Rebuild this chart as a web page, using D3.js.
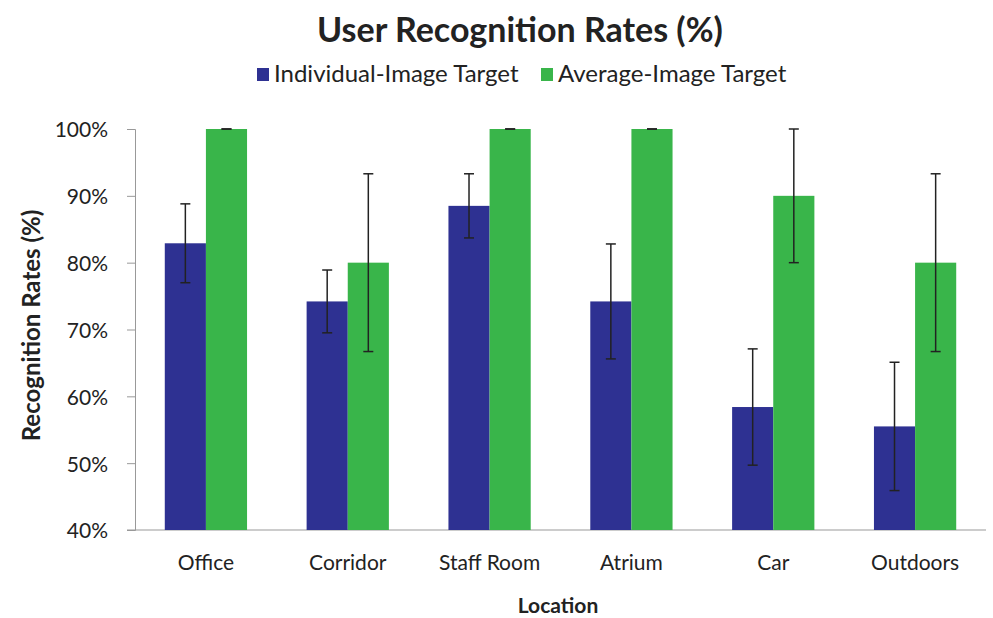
<!DOCTYPE html>
<html>
<head>
<meta charset="utf-8">
<script src="https://cdn.jsdelivr.net/npm/d3@7"></script>
<style>
  body { margin: 0; background: #fff; }
  svg text { font-family: Lato, "Open Sans", sans-serif; }
</style>
</head>
<body>
<script>
const w = 993;
const h = 618;
const margin = { top: 129, right: 7, bottom: 88, left: 135 };

const locations = ['Office', 'Corridor', 'Staff Room', 'Atrium', 'Car', 'Outdoors'];
const seriesNames = ['Individual-Image Target', 'Average-Image Target'];
const individual = [82.9, 74.2, 88.5, 74.2, 58.4, 55.5];
const individualErr = [5.9, 4.7, 4.8, 8.6, 8.7, 9.6];
const average = [100, 80, 100, 100, 90, 80];
const averageErr = [0, 13.3, 0, 0, 10, 13.3];
const yTicks = [40, 50, 60, 70, 80, 90, 100];
const colors = ['#2e3192', '#39b54a'];

const rows = locations.map((loc, i) => ({
  loc,
  vals: [
    { s: 0, v: individual[i], e: individualErr[i] },
    { s: 1, v: average[i], e: averageErr[i] }
  ]
}));

const svg = d3.select('body').append('svg')
  .attr('width', w)
  .attr('height', h);

const x0 = d3.scaleBand()
  .domain(locations)
  .range([margin.left, w - margin.right])
  .paddingInner(0.42)
  .paddingOuter(0.21);

const x1 = d3.scaleBand()
  .domain([0, 1])
  .range([0, x0.bandwidth()]);

const y = d3.scaleLinear()
  .domain([40, 100])
  .range([h - margin.bottom, margin.top]);

// title + legend
svg.append('text')
  .attr('x', 520)
  .attr('y', 42)
  .attr('text-anchor', 'middle')
  .style('font-size', '34px')
  .style('font-weight', 'bold')
  .attr('fill', '#222')
  .text('User Recognition Rates (%)');

const legend = svg.append('g').attr('transform', 'translate(257, 66)');
const legendX = [0, 284];
seriesNames.forEach((name, i) => {
  const g = legend.append('g').attr('transform', `translate(${legendX[i]}, 0)`);
  g.append('rect')
    .attr('width', 12).attr('height', 13)
    .attr('y', 2)
    .attr('fill', colors[i]);
  g.append('text')
    .attr('x', 17)
    .attr('y', 16)
    .style('font-size', '24px')
    .attr('fill', '#222')
    .text(name);
});

// y axis
const yAxis = svg.append('g')
  .attr('transform', `translate(${margin.left}, 0)`)
  .call(d3.axisLeft(y).tickValues(yTicks).tickFormat(d => d + '%').tickSize(8).tickPadding(19));
yAxis.attr('font-family', null);
yAxis.select('.domain').attr('stroke', '#999');
yAxis.selectAll('.tick line').attr('stroke', '#999');
yAxis.selectAll('.tick text').style('font-size', '21px').attr('fill', '#222').attr('dy', '0.38em');

// x axis
const xAxis = svg.append('g')
  .attr('transform', `translate(0, ${h - margin.bottom})`)
  .call(d3.axisBottom(x0).tickSize(0).tickPadding(25));
xAxis.attr('font-family', null);
xAxis.select('.domain').attr('stroke', '#999').attr('d', `M${margin.left - 8},0H${w - margin.right}`);
xAxis.selectAll('.tick text').style('font-size', '21px').attr('fill', '#222');

// bars
const groups = svg.append('g')
  .selectAll('g')
  .data(rows)
  .enter().append('g')
  .attr('transform', d => `translate(${x0(d.loc)}, 0)`);

groups.selectAll('rect')
  .data(d => d.vals)
  .enter().append('rect')
  .attr('x', d => x1(d.s))
  .attr('y', d => y(d.v))
  .attr('width', x1.bandwidth())
  .attr('height', d => y(40) - y(d.v))
  .attr('fill', d => colors[d.s]);

// error bars
const err = groups.selectAll('g.err')
  .data(d => d.vals)
  .enter().append('g')
  .attr('class', 'err')
  .attr('stroke', '#222')
  .attr('stroke-width', 1.5);

const cx = d => x1(d.s) + x1.bandwidth() / 2;
err.append('line')
  .attr('x1', cx).attr('x2', cx)
  .attr('y1', d => y(d.v + d.e))
  .attr('y2', d => y(d.v - d.e));
err.append('line')
  .attr('x1', d => cx(d) - 5).attr('x2', d => cx(d) + 5)
  .attr('y1', d => y(d.v + d.e))
  .attr('y2', d => y(d.v + d.e));
err.append('line')
  .attr('x1', d => cx(d) - 5).attr('x2', d => cx(d) + 5)
  .attr('y1', d => y(d.v - d.e))
  .attr('y2', d => y(d.v - d.e));

// axis titles
svg.append('text')
  .attr('x', 558)
  .attr('y', 613)
  .attr('text-anchor', 'middle')
  .style('font-size', '21px')
  .style('font-weight', 'bold')
  .attr('fill', '#222')
  .text('Location');

svg.append('text')
  .attr('transform', `translate(40, ${(y(40) + y(100)) / 2 - 4}) rotate(-90)`)
  .attr('text-anchor', 'middle')
  .style('font-size', '24px')
  .style('font-weight', 'bold')
  .attr('fill', '#222')
  .text('Recognition Rates (%)');
</script>
</body>
</html>
